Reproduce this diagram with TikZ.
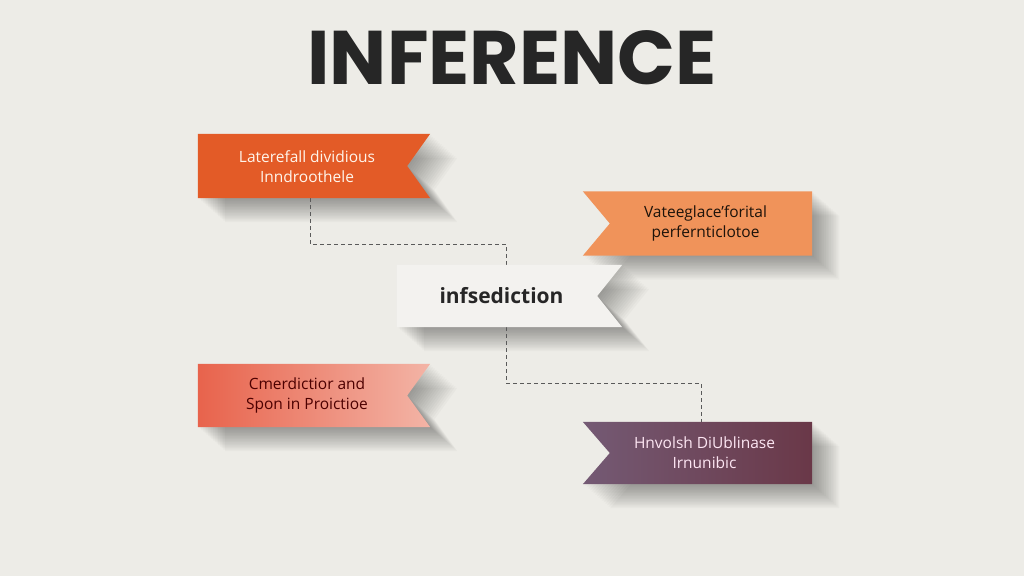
\documentclass[tikz,border=0pt]{standalone}
\usepackage{fontspec}
\setmainfont{Open Sans}
\newfontfamily\titlefont{Poppins}
\usetikzlibrary{calc}
\definecolor{bg}{HTML}{EDECE7}
\definecolor{cA}{HTML}{E35B27}
\definecolor{cB}{HTML}{F0935A}
\definecolor{cC}{HTML}{F3F2EF}
\definecolor{cDl}{HTML}{E8634C}
\definecolor{cDr}{HTML}{F3B4A6}
\definecolor{cEl}{HTML}{745A74}
\definecolor{cEr}{HTML}{6A3848}
\definecolor{conncol}{HTML}{5A5A5A}
\newcommand\ribR[2]{(#1.north west) -- (#1.north east) -- ([xshift=-#2]#1.east) -- (#1.south east) -- (#1.south west) -- cycle}
\newcommand\ribL[2]{(#1.north west) -- (#1.north east) -- (#1.south east) -- (#1.south west) -- ([xshift=#2]#1.west) -- cycle}
\tikzset{
  geom/.style={minimum width=#1, minimum height=64pt, inner sep=0pt, draw=none},
  lbl/.style={align=center, font=\fontsize{15.5}{20}\selectfont, inner sep=0pt},
  conn/.style={draw=conncol, line width=1pt, dash pattern=on 4pt off 3pt},
}
\newcommand\shadowR[2]{%
  \foreach \i in {1,...,16}{%
    \begin{scope}[transform canvas={shift={(1.7*\i,1.5*\i)}}]
      \fill[black, opacity=0.022] \ribR{#1}{#2};
    \end{scope}}}
\newcommand\shadowL[2]{%
  \foreach \i in {1,...,16}{%
    \begin{scope}[transform canvas={shift={(1.7*\i,1.5*\i)}}]
      \fill[black, opacity=0.022] \ribL{#1}{#2};
    \end{scope}}}
\begin{document}
\begin{tikzpicture}[x=1pt,y=-1pt]
\useasboundingbox (0,0) rectangle (1024,576);
\fill[bg] (0,0) rectangle (1024,576);

\node[font=\titlefont\bfseries\fontsize{76}{80}\selectfont, text=black!85] (title) at (512,58) {INFERENCE};

% geometry nodes
\node[geom=232pt] (b1) at (314,166) {};
\node[geom=229pt] (b2) at (697.5,223.5) {};
\node[geom=225pt, minimum height=62pt] (c) at (509.5,296) {};
\node[geom=232pt, minimum height=63pt] (b4) at (314,395.5) {};
\node[geom=229pt, minimum height=62pt] (b5) at (697.5,453) {};

% shadows
\shadowR{b1}{23pt}
\shadowL{b2}{27pt}
\shadowR{c}{25pt}
\shadowR{b4}{23pt}
\shadowL{b5}{27pt}

% connectors
\draw[conn] ([xshift=-4pt]b1.south) -- ++(0,46) -| ([xshift=-3.5pt]c.north);
\draw[conn] ([xshift=-3.5pt]c.south) -- ++(0,56) -| ([xshift=3.5pt]b5.north);

% ribbons
\fill[cA] \ribR{b1}{23pt};
\fill[cB] \ribL{b2}{27pt};
\fill[cC] \ribR{c}{25pt};
\shade[left color=cDl, right color=cDr] \ribR{b4}{23pt};
\shade[left color=cEl, right color=cEr] \ribL{b5}{27pt};

% labels
\node[lbl, text=white!92!orange] (t1) at ($(b1)+(-7,1)$) {Laterefall dividious\\Inndroothele};
\node[lbl, text=black!85!brown] (t2) at ($(b2)+(8,0)$) {Vateeglace'forital\\perfernticlotoe};
\node[lbl, font=\bfseries\fontsize{21}{24}\selectfont, text=black!85] (t3) at ($(c)+(-8,0)$) {infsediction};
\node[lbl, text=black!70!red] (t4) at ($(b4)+(-7,0)$) {Cmerdictior and\\Spon in Proictioe};
\node[lbl, text=white!90!magenta] (t5) at ($(b5)+(7,0)$) {Hnvolsh DiUblinase\\Irnunibic};
\end{tikzpicture}
\end{document}
